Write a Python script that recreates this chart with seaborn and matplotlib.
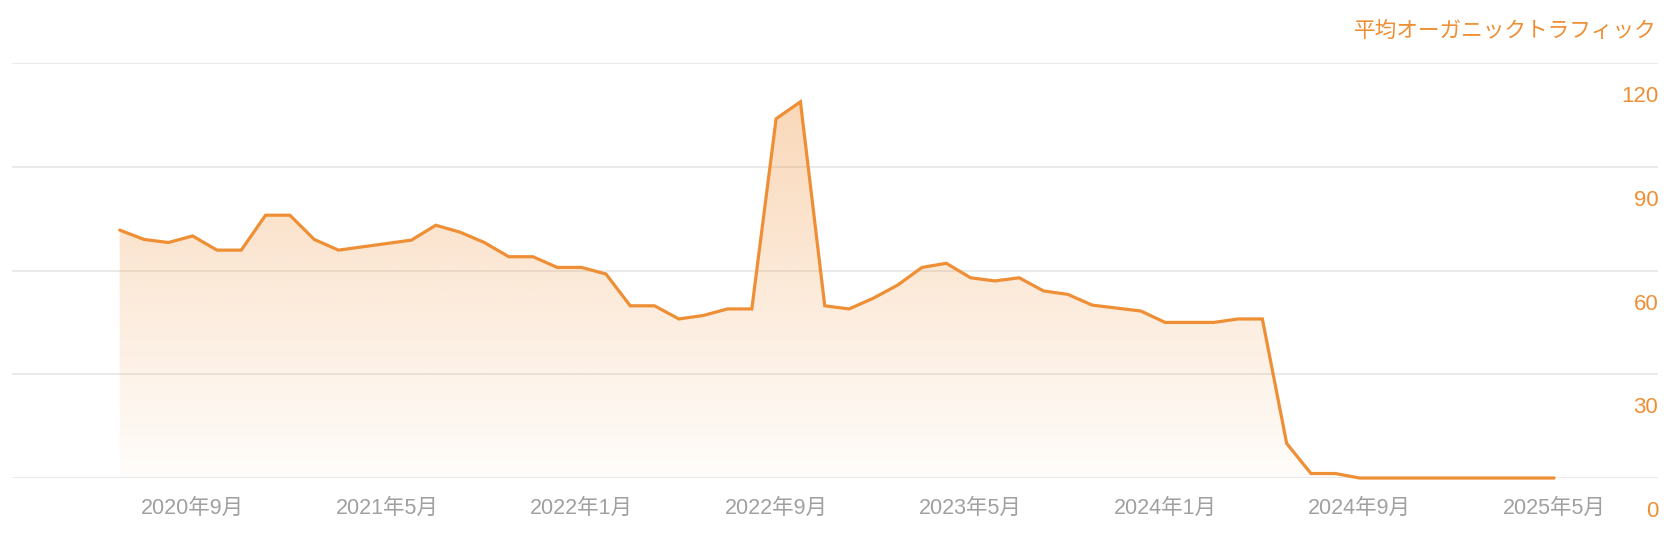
import numpy as np
import pandas as pd
import matplotlib
matplotlib.use("Agg")
import matplotlib.pyplot as plt
import matplotlib.transforms as mtransforms
from matplotlib.colors import to_rgb
import seaborn as sns

# vertices (months with no visible vertex are left out)
months = ["2020-06", "2020-07", "2020-08", "2020-09", "2020-10", "2020-11", "2020-12",
          "2021-01", "2021-02", "2021-03", "2021-06", "2021-07", "2021-08", "2021-09",
          "2021-10", "2021-11", "2021-12", "2022-01", "2022-02", "2022-03", "2022-04",
          "2022-05", "2022-06", "2022-07", "2022-08", "2022-09", "2022-10", "2022-11",
          "2022-12", "2023-01", "2023-02", "2023-03", "2023-04", "2023-05", "2023-06",
          "2023-07", "2023-08", "2023-09", "2023-10", "2023-12", "2024-01",
          "2024-02", "2024-03", "2024-04", "2024-05", "2024-06", "2024-07", "2024-08",
          "2024-09", "2024-10", "2024-11", "2024-12", "2025-01", "2025-02", "2025-03",
          "2025-04", "2025-05"]
traffic = [71.7, 69.0, 68.1, 70.0, 65.9, 65.9, 76.0,
           76.0, 69.0, 65.9, 68.8, 73.1, 71.1, 68.1,
           64.0, 64.0, 60.9, 60.9, 59.0, 49.8, 49.8,
           46.0, 47.0, 48.9, 48.9, 103.9, 108.8, 49.8,
           48.9, 52.0, 55.8, 60.9, 62.1, 57.9, 57.0,
           57.9, 54.1, 53.1, 50.0, 48.3, 45.0,
           45.0, 45.0, 46.0, 46.0, 10.0, 1.3, 1.3,
           0, 0, 0, 0, 0, 0, 0,
           0, 0]
tick_months = ["2020-09", "2021-05", "2022-01", "2022-09", "2023-05", "2024-01", "2024-09", "2025-05"]
tick_labels = ["2020年9月", "2021年5月", "2022年1月", "2022年9月", "2023年5月", "2024年1月", "2024年9月", "2025年5月"]
y_ticks = [0, 30, 60, 90, 120]
title = "平均オーガニックトラフィック"

orange = "#ef8f35"
gray = "#a0a0a0"

start = pd.Period(months[0], freq="M")
df = pd.DataFrame({"month": months, "traffic": traffic})
df["idx"] = [(pd.Period(m, freq="M") - start).n for m in df["month"]]
tick_pos = [(pd.Period(m, freq="M") - start).n for m in tick_months]

sns.set_style("white")
plt.rcParams["font.family"] = ["Liberation Sans", "Noto Sans CJK JP"]

fig = plt.figure(figsize=(16.8, 5.46), dpi=100)
ax = fig.add_axes([0.007, 0.1245, 0.980, 0.760])

xmin, xmax = -4.44, 63.28
ymax = 120

# gradient fill under the line
poly = ax.fill_between(df["idx"], df["traffic"], 0, color="none", lw=0)
r, g, b = to_rgb(orange)
grad = np.zeros((256, 2, 4))
grad[..., 0], grad[..., 1], grad[..., 2] = r, g, b
grad[..., 3] = np.linspace(0.36, 0.02, 256)[:, None] * np.ones((1, 2))
im = ax.imshow(grad, extent=[xmin, xmax, 0, 112], aspect="auto", origin="upper", zorder=1)
im.set_clip_path(poly.get_paths()[0], ax.transData)

sns.lineplot(data=df, x="idx", y="traffic", ax=ax, color=orange, lw=2.3, zorder=3)
for ln in ax.lines:
    ln.set_clip_on(False)
    ln.set_solid_joinstyle("miter")

ax.set_xlim(xmin, xmax)
ax.set_ylim(0, ymax)
ax.set_xlabel("")
ax.set_ylabel("")
for s in ax.spines.values():
    s.set_visible(False)

ax.set_yticks(y_ticks)
ax.grid(axis="y", color="#e6e6e6", lw=1.2, zorder=0)
ax.grid(axis="x", visible=False)
ax.yaxis.tick_right()
ax.tick_params(axis="y", length=0, pad=0, labelsize=16, labelcolor=orange)
offset = mtransforms.ScaledTranslation(0, -0.31, fig.dpi_scale_trans)
for lab in ax.get_yticklabels():
    lab.set_horizontalalignment("right")
    lab.set_transform(lab.get_transform() + offset)

ax.set_xticks(tick_pos)
ax.set_xticklabels(tick_labels)
ax.tick_params(axis="x", length=0, pad=14, labelsize=15.5, labelcolor=gray)

fig.text(0.986, 0.942, title, ha="right", va="center", color=orange, fontsize=15.6)

fig.savefig("out.png", dpi=100)
